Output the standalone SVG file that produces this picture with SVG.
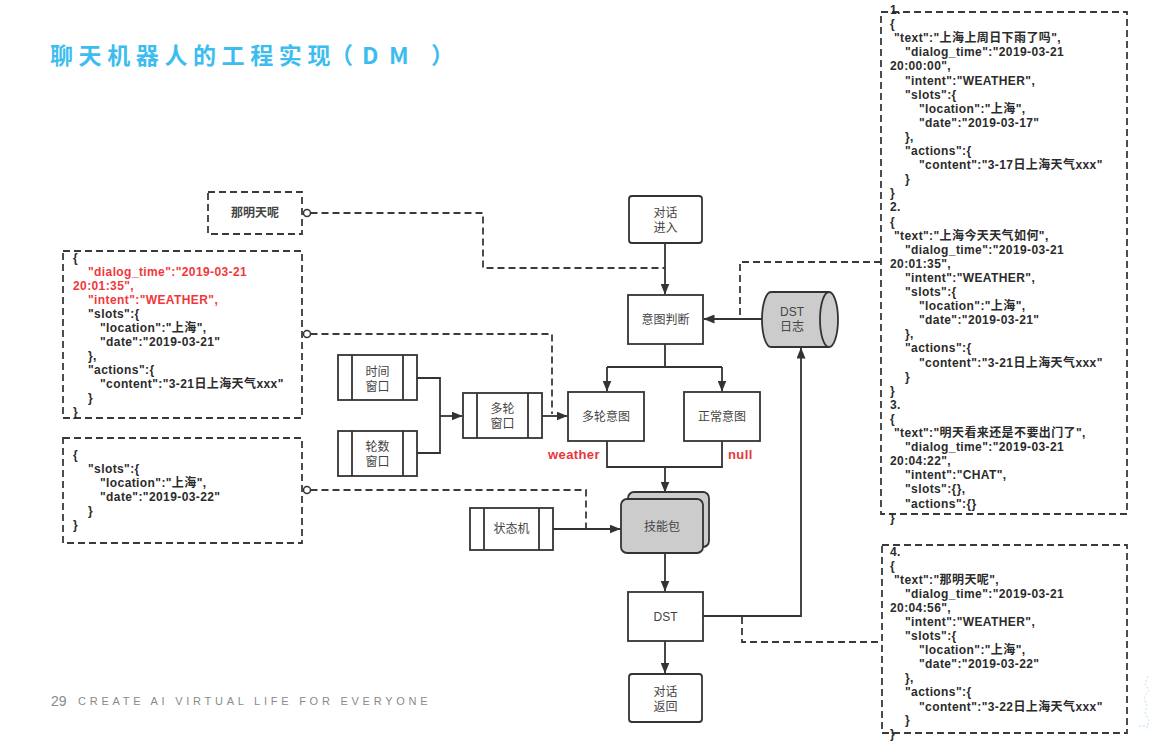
<svg xmlns="http://www.w3.org/2000/svg" width="1154" height="745" viewBox="0 0 1154 745">
  <style>
    .json { font-family: "Liberation Sans", "Noto Sans CJK SC", sans-serif; font-size: 12px; font-weight: bold; fill: #2b2b2b; letter-spacing: 0.4px; }
    .red { fill: #f0383c; }
    .lbl { font-family: "Liberation Sans", "Noto Sans CJK SC", sans-serif; font-size: 12px; fill: #444; text-anchor: middle; }
    .box { fill: #fff; stroke: #333; stroke-width: 1.8; }
    .gray { fill: #cccccc; stroke: #333; stroke-width: 1.8; }
    .dbox { fill: none; stroke: #3a3a3a; stroke-width: 1.8; stroke-dasharray: 7 4; }
    .line { fill: none; stroke: #333; stroke-width: 1.8; }
    .dash { fill: none; stroke: #3a3a3a; stroke-width: 1.8; stroke-dasharray: 7 4; }
    .ring { fill: #fff; stroke: #333; stroke-width: 1.5; }
    .tag { font-family: "Liberation Sans", "Noto Sans CJK SC", sans-serif; font-size: 13px; font-weight: bold; fill: #e8363b; letter-spacing: 0.4px; }
  </style>
  <defs>
    <marker id="arr" viewBox="0 0 11 9" refX="10.5" refY="4.5" markerWidth="11" markerHeight="9" markerUnits="userSpaceOnUse" orient="auto">
      <path d="M0,0 L11,4.5 L0,9 z" fill="#333"/>
    </marker>
  </defs>

  <rect width="1154" height="745" fill="#fff"/>

  <!-- heading and footer -->
  <text x="50 78.6 107.2 135.8 164.4 193 221.6 250.2 278.8 307.4 330 362 389 431" y="64" font-family="'Noto Sans CJK SC', sans-serif" font-size="23" font-weight="bold" fill="#3dbdef">聊天机器人的工程实现（DM）</text>
  <text x="51" y="706" font-family="'Liberation Sans', sans-serif" font-size="14" fill="#8a8a8a">29</text>
  <text x="78" y="705" font-family="'Liberation Sans', sans-serif" font-size="11" fill="#8a8a8a" letter-spacing="3.75">CREATE AI VIRTUAL LIFE FOR EVERYONE</text>
  <!-- faint corner ornament -->
  <path d="M1148,676 l-3,8 l4,6 l-5,7 l3,9 l-2,7 l4,8 l-3,9 M1139,726 h9" fill="none" stroke="#b9e0f5" stroke-width="1" stroke-dasharray="2 2"/>

  <!-- connectors -->
  <g id="connectors">
    <path class="line" d="M665,243 V294" marker-end="url(#arr)"/>
    <path class="line" d="M762,319 H704" marker-end="url(#arr)"/>
    <path class="line" d="M665,344 V367 M607,367 H722"/>
    <path class="line" d="M607,367 V391" marker-end="url(#arr)"/>
    <path class="line" d="M722,367 V391" marker-end="url(#arr)"/>
    <path class="line" d="M607,441 V467 H722 V441"/>
    <path class="line" d="M665,467 V492" marker-end="url(#arr)"/>
    <path class="line" d="M665,553 V591" marker-end="url(#arr)"/>
    <path class="line" d="M665,641 V673" marker-end="url(#arr)"/>
    <path class="line" d="M703,616 H801 V348" marker-end="url(#arr)"/>
    <path class="line" d="M417,378 H440 V453 H417"/>
    <path class="line" d="M440,416 H462" marker-end="url(#arr)"/>
    <path class="line" d="M542,416 H567" marker-end="url(#arr)"/>
    <path class="line" d="M553,529 H620" marker-end="url(#arr)"/>
    <path class="dash" d="M310.5,213 H483 V268 H665"/>
    <path class="dash" d="M310.5,334 H552 V414"/>
    <path class="dash" d="M310.5,490 H586 V528"/>
    <path class="dash" d="M881,262 H740 V318"/>
    <path class="dash" d="M742,617 V642 H881"/>
    <circle class="ring" cx="307" cy="213" r="3.5"/>
    <circle class="ring" cx="307" cy="334" r="3.5"/>
    <circle class="ring" cx="307" cy="490" r="3.5"/>
  </g>

  <!-- flow nodes -->
  <g id="dialog-in">
    <rect class="box" x="629" y="196" width="73" height="47" rx="3"/>
    <text class="lbl" x="665.5" y="217">对话</text>
    <text class="lbl" x="665.5" y="232">进入</text>
  </g>
  <g id="intent-judge">
    <rect class="box" x="628" y="295" width="75" height="49"/>
    <text class="lbl" x="665.5" y="324">意图判断</text>
  </g>
  <g id="dst-log">
    <path class="gray" d="M771,292 H829 A9,27.5 0 0 1 829,347 H771 A9,27.5 0 0 1 771,292 Z"/>
    <path class="line" d="M829,292 A9,27.5 0 0 0 829,347"/>
    <text class="lbl" x="792" y="316">DST</text>
    <text class="lbl" x="792" y="331">日志</text>
  </g>
  <g id="multi-intent">
    <rect class="box" x="568" y="392" width="76" height="49"/>
    <text class="lbl" x="606" y="421">多轮意图</text>
  </g>
  <g id="normal-intent">
    <rect class="box" x="684" y="392" width="76" height="49"/>
    <text class="lbl" x="722" y="421">正常意图</text>
  </g>
  <g id="label-weather"><text class="tag" x="548" y="459">weather</text></g>
  <g id="label-null"><text class="tag" x="728" y="459">null</text></g>
  <g id="skill-pack">
    <rect class="gray" x="628" y="492" width="81" height="55" rx="6"/>
    <rect class="gray" x="621" y="499" width="82" height="54" rx="6"/>
    <text class="lbl" x="662" y="531">技能包</text>
  </g>
  <g id="dst">
    <rect class="box" x="628" y="592" width="75" height="49"/>
    <text class="lbl" x="665.5" y="621">DST</text>
  </g>
  <g id="dialog-out">
    <rect class="box" x="629" y="674" width="73" height="48" rx="3"/>
    <text class="lbl" x="665.5" y="696">对话</text>
    <text class="lbl" x="665.5" y="711">返回</text>
  </g>

  <!-- window / state-machine subprocesses -->
  <g id="time-window">
    <rect class="box" x="338" y="355" width="79" height="45"/>
    <path class="line" d="M352,355 V400 M403,355 V400"/>
    <text class="lbl" x="377.5" y="376">时间</text>
    <text class="lbl" x="377.5" y="391">窗口</text>
  </g>
  <g id="round-window">
    <rect class="box" x="338" y="431" width="79" height="45"/>
    <path class="line" d="M352,431 V476 M403,431 V476"/>
    <text class="lbl" x="377.5" y="451">轮数</text>
    <text class="lbl" x="377.5" y="466">窗口</text>
  </g>
  <g id="multi-window">
    <rect class="box" x="463" y="393" width="79" height="45"/>
    <path class="line" d="M477,393 V438 M528,393 V438"/>
    <text class="lbl" x="502.5" y="413">多轮</text>
    <text class="lbl" x="502.5" y="428">窗口</text>
  </g>
  <g id="state-machine">
    <rect class="box" x="470" y="508" width="83" height="42"/>
    <path class="line" d="M484,508 V550 M539,508 V550"/>
    <text class="lbl" x="511.5" y="533">状态机</text>
  </g>

  <!-- user utterance -->
  <g id="utterance">
    <rect class="dbox" x="208" y="192" width="94" height="42"/>
    <text class="lbl" x="255" y="217" font-weight="bold" fill="#333">那明天呢</text>
  </g>

  <!-- multi-turn state -->
  <g id="state-json">
    <rect class="dbox" x="63" y="251" width="239" height="167"/>
    <text class="json">
      <tspan x="73" y="262">{</tspan>
      <tspan class="red" x="88" y="276">"dialog_time":"2019-03-21</tspan>
      <tspan class="red" x="73" y="290">20:01:35",</tspan>
      <tspan class="red" x="88" y="304">"intent":"WEATHER",</tspan>
      <tspan x="88" y="318">"slots":{</tspan>
      <tspan x="100" y="332">"location":"上海",</tspan>
      <tspan x="100" y="346">"date":"2019-03-21"</tspan>
      <tspan x="88" y="360">},</tspan>
      <tspan x="88" y="374">"actions":{</tspan>
      <tspan x="100" y="388">"content":"3-21日上海天气xxx"</tspan>
      <tspan x="88" y="402">}</tspan>
      <tspan x="73" y="416">}</tspan>
    </text>
  </g>

  <!-- slot update -->
  <g id="slot-json">
    <rect class="dbox" x="63" y="438" width="239" height="105"/>
    <text class="json">
      <tspan x="73" y="459">{</tspan>
      <tspan x="88" y="473">"slots":{</tspan>
      <tspan x="100" y="487">"location":"上海",</tspan>
      <tspan x="100" y="501">"date":"2019-03-22"</tspan>
      <tspan x="88" y="515">}</tspan>
      <tspan x="73" y="529">}</tspan>
    </text>
  </g>

  <!-- dialog history log -->
  <g id="history-json">
    <rect class="dbox" x="881" y="12" width="246" height="502"/>
    <text class="json">
      <tspan x="890" y="14">1.</tspan>
      <tspan x="890" y="28.1">{</tspan>
      <tspan x="894" y="42.2">"text":"上海上周日下雨了吗",</tspan>
      <tspan x="905" y="56.3">"dialog_time":"2019-03-21</tspan>
      <tspan x="890" y="70.4">20:00:00",</tspan>
      <tspan x="905" y="84.5">"intent":"WEATHER",</tspan>
      <tspan x="905" y="98.6">"slots":{</tspan>
      <tspan x="919" y="112.7">"location":"上海",</tspan>
      <tspan x="919" y="126.8">"date":"2019-03-17"</tspan>
      <tspan x="905" y="140.9">},</tspan>
      <tspan x="905" y="155">"actions":{</tspan>
      <tspan x="919" y="169.1">"content":"3-17日上海天气xxx"</tspan>
      <tspan x="905" y="183.2">}</tspan>
      <tspan x="890" y="197.3">}</tspan>
      <tspan x="890" y="211.4">2.</tspan>
      <tspan x="890" y="225.5">{</tspan>
      <tspan x="894" y="239.6">"text":"上海今天天气如何",</tspan>
      <tspan x="905" y="253.7">"dialog_time":"2019-03-21</tspan>
      <tspan x="890" y="267.8">20:01:35",</tspan>
      <tspan x="905" y="281.9">"intent":"WEATHER",</tspan>
      <tspan x="905" y="296">"slots":{</tspan>
      <tspan x="919" y="310.1">"location":"上海",</tspan>
      <tspan x="919" y="324.2">"date":"2019-03-21"</tspan>
      <tspan x="905" y="338.3">},</tspan>
      <tspan x="905" y="352.4">"actions":{</tspan>
      <tspan x="919" y="366.5">"content":"3-21日上海天气xxx"</tspan>
      <tspan x="905" y="380.6">}</tspan>
      <tspan x="890" y="394.7">}</tspan>
      <tspan x="890" y="408.8">3.</tspan>
      <tspan x="890" y="422.9">{</tspan>
      <tspan x="894" y="437">"text":"明天看来还是不要出门了",</tspan>
      <tspan x="905" y="451.1">"dialog_time":"2019-03-21</tspan>
      <tspan x="890" y="465.2">20:04:22",</tspan>
      <tspan x="905" y="479.3">"intent":"CHAT",</tspan>
      <tspan x="905" y="493.4">"slots":{},</tspan>
      <tspan x="905" y="507.5">"actions":{}</tspan>
      <tspan x="890" y="521.6">}</tspan>
    </text>
  </g>

  <!-- newly tracked turn -->
  <g id="turn-json">
    <rect class="dbox" x="882" y="545" width="245" height="188"/>
    <text class="json">
      <tspan x="890" y="556">4.</tspan>
      <tspan x="890" y="570">{</tspan>
      <tspan x="894" y="584">"text":"那明天呢",</tspan>
      <tspan x="905" y="598">"dialog_time":"2019-03-21</tspan>
      <tspan x="890" y="612">20:04:56",</tspan>
      <tspan x="905" y="626">"intent":"WEATHER",</tspan>
      <tspan x="905" y="640">"slots":{</tspan>
      <tspan x="919" y="654">"location":"上海",</tspan>
      <tspan x="919" y="668">"date":"2019-03-22"</tspan>
      <tspan x="905" y="682">},</tspan>
      <tspan x="905" y="696">"actions":{</tspan>
      <tspan x="919" y="711">"content":"3-22日上海天气xxx"</tspan>
      <tspan x="905" y="724">}</tspan>
      <tspan x="890" y="738">}</tspan>
    </text>
  </g>
</svg>
